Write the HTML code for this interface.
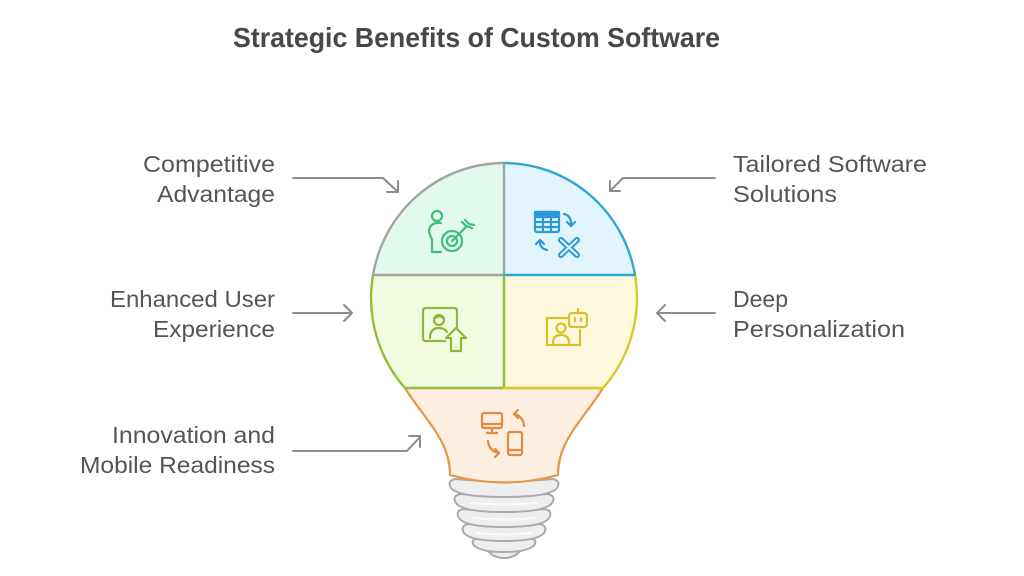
<!DOCTYPE html>
<html><head><meta charset="utf-8"><style>
html,body{margin:0;padding:0;background:#fff;}
svg{display:block;}
text{font-family:"Liberation Sans",sans-serif;}
</style></head><body>
<svg width="1024" height="576" viewBox="0 0 1024 576" xmlns="http://www.w3.org/2000/svg">
<rect width="1024" height="576" fill="#ffffff"/>
<text x="233" y="47" font-size="28" font-weight="bold" fill="#484848" textLength="487" lengthAdjust="spacingAndGlyphs">Strategic Benefits of Custom Software</text>

<!-- labels -->
<g font-size="23" fill="#555555">
<text x="275" y="172" text-anchor="end" textLength="132" lengthAdjust="spacingAndGlyphs">Competitive</text>
<text x="275" y="202" text-anchor="end" textLength="118" lengthAdjust="spacingAndGlyphs">Advantage</text>
<text x="275" y="307" text-anchor="end" textLength="165" lengthAdjust="spacingAndGlyphs">Enhanced User</text>
<text x="275" y="337" text-anchor="end" textLength="122" lengthAdjust="spacingAndGlyphs">Experience</text>
<text x="275" y="443" text-anchor="end" textLength="163" lengthAdjust="spacingAndGlyphs">Innovation and</text>
<text x="275" y="473" text-anchor="end" textLength="195" lengthAdjust="spacingAndGlyphs">Mobile Readiness</text>
<text x="733" y="172" textLength="194" lengthAdjust="spacingAndGlyphs">Tailored Software</text>
<text x="733" y="202" textLength="104" lengthAdjust="spacingAndGlyphs">Solutions</text>
<text x="733" y="307" textLength="55" lengthAdjust="spacingAndGlyphs">Deep</text>
<text x="733" y="337" textLength="172" lengthAdjust="spacingAndGlyphs">Personalization</text>
</g>

<!-- arrows -->
<g fill="none" stroke="#8c8c8c" stroke-width="2" stroke-linecap="round" stroke-linejoin="round">
<polyline points="293,178 383,178 398,192"/>
<polyline points="398,181 398,192 387,192"/>
<line x1="293" y1="313" x2="352" y2="313"/>
<polyline points="344,305 352,313 344,321"/>
<polyline points="715,178 623,178 610,191"/>
<polyline points="610,181 610,191 620,191"/>
<line x1="715" y1="313" x2="657" y2="313"/>
<polyline points="665,305 657,313 665,321"/>
<polyline points="293,451 407,451 420,437"/>
<polyline points="409,436 420,436 420,447"/>
</g>

<!-- socket -->
<g fill="#eeeeee" stroke="#a9a9a9" stroke-width="2" stroke-linejoin="round">
<path d="M 487 549 Q 504 551 521 549 Q 516 558 504 558 Q 492 558 487 549 Z"/>
<path d="M 479 538 Q 504 542 529 538 Q 537 539 535 544 Q 530 552 504 552 Q 478 552 473 544 Q 471 539 479 538 Z"/>
<path d="M 469 524 Q 504 529 539 524 Q 547 525 545 531 Q 542 541 504 541 Q 466 541 463 531 Q 461 525 469 524 Z"/>
<path d="M 464 509 Q 504 514 544 509 Q 552 510 550 516 Q 547 527 504 527 Q 461 527 458 516 Q 456 510 464 509 Z"/>
<path d="M 461 494 Q 504 499 547 494 Q 555 495 553 501 Q 550 512 504 512 Q 458 512 455 501 Q 453 495 461 494 Z"/>
<path d="M 456 479 Q 504 484 552 479 Q 560 480 558 486 Q 555 497 504 497 Q 453 497 450 486 Q 448 480 456 479 Z"/>
</g>
<g fill="none" stroke="#ffffff" stroke-width="2" opacity="0.8">
<path d="M 470 503 Q 504 506 538 503"/>
<path d="M 472 518 Q 504 521 536 518"/>
<path d="M 476 533 Q 504 536 532 533"/>
</g>

<!-- orange neck -->
<path d="M 405 388 C 425 420 450 440 450 475 Q 504 490 558 475 C 558 440 583 420 603 388 Z" fill="#fdeee2" stroke="#e8954a" stroke-width="2.2" stroke-linejoin="round"/>

<!-- quadrants -->
<path d="M 373 275 A 133 135 0 0 1 504 163 L 504 275 Z" fill="#e2f9ee"/>
<path d="M 504 163 A 133 135 0 0 1 635 275 L 504 275 Z" fill="#e3f5fc"/>
<path d="M 373 275 A 133 135 0 0 0 405 388 L 504 388 L 504 275 Z" fill="#f2fadf"/>
<path d="M 635 275 A 133 135 0 0 1 603 388 L 504 388 L 504 275 Z" fill="#fef8dc"/>

<g fill="none" stroke-width="2.4" stroke-linecap="round">
<path d="M 373 275 A 133 135 0 0 1 504 163" stroke="#a3a3a3"/>
<path d="M 504 163 A 133 135 0 0 1 635 275" stroke="#2fa6d5"/>
<path d="M 373 275 A 133 135 0 0 0 405 388" stroke="#94bd3c"/>
<path d="M 635 275 A 133 135 0 0 1 603 388" stroke="#dcc62c"/>
<line x1="504" y1="164" x2="504" y2="275" stroke="#94a6b0"/>
<line x1="373" y1="275" x2="504" y2="275" stroke="#a3a3a3"/>
<line x1="504" y1="275" x2="635" y2="275" stroke="#2fa6d5"/>
<line x1="504" y1="276" x2="504" y2="388" stroke="#94bd3c"/>
<line x1="405" y1="388" x2="504" y2="388" stroke="#94bd3c"/>
<line x1="504" y1="388" x2="603" y2="388" stroke="#dcc62c"/>
</g>

<!-- icon 1 competitive -->
<g fill="none" stroke="#3dbf7a" stroke-width="2.2" stroke-linecap="round" stroke-linejoin="round">
<circle cx="437" cy="216" r="5"/>
<path d="M 441 223 Q 429 222 429 232 L 432 240 L 432 252 L 441 252"/>
<circle cx="452" cy="241" r="10"/>
<circle cx="452" cy="241" r="5"/>
<line x1="452" y1="241" x2="467" y2="226"/>
<polyline points="462,222 466,226 472,228"/>
<polyline points="465,220 469,224 474,225"/>
</g>

<!-- icon 2 tailored -->
<g fill="none" stroke="#2b9bd8" stroke-width="2.2" stroke-linecap="round" stroke-linejoin="round">
<rect x="535" y="212" width="24" height="20" rx="2"/>
<rect x="535" y="212" width="24" height="5" fill="#2b9bd8"/>
<line x1="535" y1="222" x2="559" y2="222"/>
<line x1="535" y1="227" x2="559" y2="227"/>
<line x1="543" y1="217" x2="543" y2="232"/>
<line x1="551" y1="217" x2="551" y2="232"/>
<path d="M 564 214 Q 572 216 571 226"/>
<polyline points="567,222 571,226 575,222"/>
<path d="M 547 250 Q 539 248 540 240"/>
<polyline points="536,244 540,240 544,244"/>
<line x1="561" y1="240" x2="577" y2="255" stroke-width="6"/>
<line x1="577" y1="240" x2="561" y2="255" stroke-width="6"/>
<line x1="561" y1="240" x2="577" y2="255" stroke-width="2" stroke="#e3f5fc"/>
<line x1="577" y1="240" x2="561" y2="255" stroke-width="2" stroke="#e3f5fc"/>
</g>

<!-- icon 3 enhanced -->
<g fill="none" stroke="#8ab83c" stroke-width="2.2" stroke-linecap="round" stroke-linejoin="round">
<path d="M 445 341 L 426 341 Q 423 341 423 338 L 423 311 Q 423 308 426 308 L 454 308 Q 457 308 457 311 L 457 327"/>
<circle cx="439" cy="320" r="5"/>
<path d="M 436 318 Q 439 314 443 318"/>
<path d="M 430 338 Q 430 328 439 328 Q 445 328 447 332"/>
<polygon points="456,328 466,338 461,338 461,351 451,351 451,338 446,338"/>
</g>

<!-- icon 4 deep -->
<g fill="none" stroke="#d6c12c" stroke-width="2.2" stroke-linecap="round" stroke-linejoin="round">
<path d="M 567 318 L 547 318 L 547 345 L 580 345 L 580 330"/>
<circle cx="561" cy="328" r="4.5"/>
<path d="M 553 343 Q 553 335 561 335 Q 569 335 569 343"/>
<rect x="569" y="313" width="18" height="14" rx="3"/>
<line x1="575" y1="318" x2="575" y2="321"/>
<line x1="581" y1="318" x2="581" y2="321"/>
<line x1="578" y1="309" x2="578" y2="313"/>
</g>

<!-- icon 5 innovation -->
<g fill="none" stroke="#e28a40" stroke-width="2.2" stroke-linecap="round" stroke-linejoin="round">
<rect x="482" y="413" width="20" height="15" rx="2"/>
<line x1="482" y1="424" x2="502" y2="424"/>
<line x1="492" y1="428" x2="492" y2="433"/>
<line x1="487" y1="433" x2="497" y2="433"/>
<rect x="508" y="432" width="14" height="23" rx="2"/>
<line x1="508" y1="450" x2="522" y2="450"/>
<path d="M 524 426 Q 523 416 514 414"/>
<polyline points="518,410 514,414 518,418"/>
<path d="M 488 441 Q 489 451 499 453"/>
<polyline points="495,449 499,453 495,457"/>
</g>
</svg>
</body></html>
